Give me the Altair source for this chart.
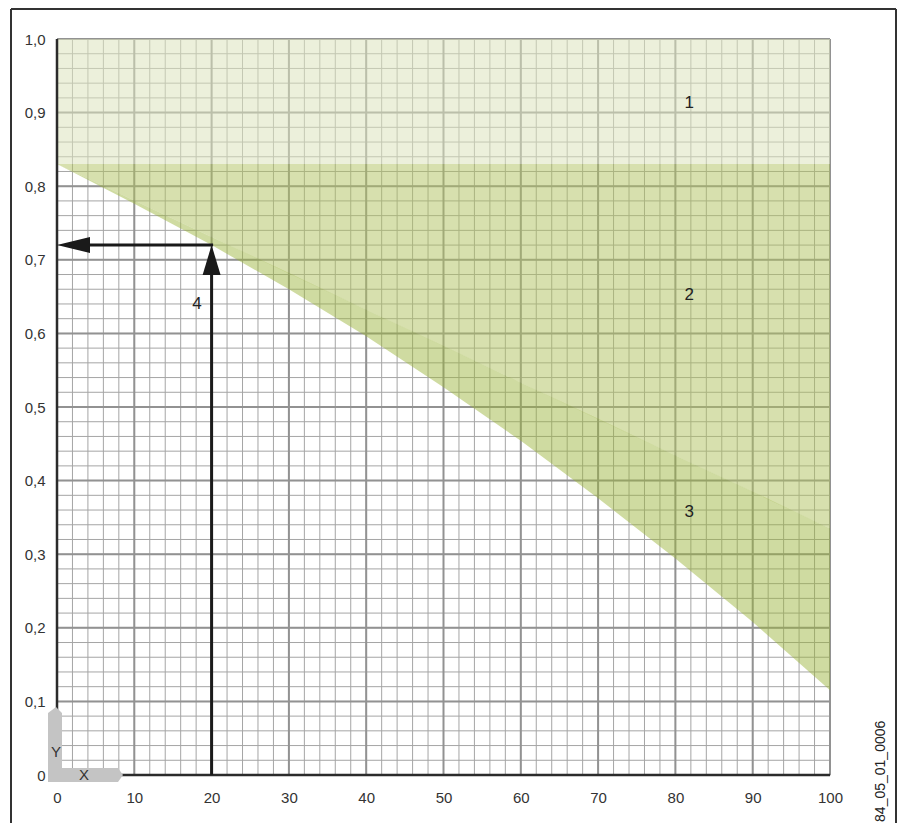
import altair as alt
import pandas as pd

# ---- axis ticks / grid positions ----
x_ticks = list(range(0, 101, 10))
y_ticks = [round(i * 0.1, 1) for i in range(11)]
x_minor = list(range(0, 101, 2))
y_minor = [round(i * 0.02, 2) for i in range(51)]

# ---- shaded zones ----
zone1_x = [0, 100]
zone1_bottom = [0.83, 0.83]
zone1_top = [1.0, 1.0]

zone2_x = [0, 100]
zone2_bottom = [0.83, 0.335]
zone2_top = [0.83, 0.83]

band_x = [0, 10, 20, 30, 40, 50, 60, 70, 80, 90, 100]
band_upper = [0.83, 0.7805, 0.731, 0.682, 0.632, 0.583, 0.533, 0.484, 0.434, 0.385, 0.335]
band_lower = [0.83, 0.776, 0.720, 0.660, 0.596, 0.527, 0.454, 0.376, 0.294, 0.208, 0.115]

# ---- zone labels ----
zone_labels = ["1", "2", "3", "4"]
zone_label_x = [81.8, 81.8, 81.8, 18.1]
zone_label_y = [0.913, 0.652, 0.358, 0.640]

# ---- reading example (arrow) ----
read_x = 20
read_y = 0.72
arrow_v_start = 0.0
arrow_v_end = 0.70
arrow_h_end = 2

stamp = "84_05_01_0006"

FONT = "Liberation Sans"

xscale = alt.Scale(domain=[0, 100], nice=False, zero=False)
yscale = alt.Scale(domain=[0, 1], nice=False, zero=False)
xaxis = alt.Axis(values=x_ticks, ticks=False, tickSize=0, domain=False, grid=False,
                 labelFontSize=15, labelColor="#333333", labelPadding=15,
                 labelFont=FONT, labelFlush=False, labelOverlap=False, title=None)
yaxis = alt.Axis(values=y_ticks, ticks=False, tickSize=0, domain=False, grid=False,
                 labelFontSize=15, labelColor="#333333", labelPadding=12,
                 labelFont=FONT, labelFlush=False, labelOverlap=False, title=None,
                 labelExpr="datum.value == 0 ? '0' : replace(format(datum.value, '.1f'), '.', ',')")


def X(f, **kw):
    return alt.X(f, type="quantitative", scale=xscale, axis=xaxis, title=None, **kw)


def Y(f, **kw):
    return alt.Y(f, type="quantitative", scale=yscale, axis=yaxis, title=None, **kw)


df_xminor = pd.DataFrame({"v": x_minor})
df_yminor = pd.DataFrame({"v": y_minor})
df_xmajor = pd.DataFrame({"v": x_ticks})
df_ymajor = pd.DataFrame({"v": y_ticks})

grid_xminor = alt.Chart(df_xminor).mark_rule(color="#A5A5A5", strokeWidth=1).encode(x=X("v"))
grid_yminor = alt.Chart(df_yminor).mark_rule(color="#A5A5A5", strokeWidth=1).encode(y=Y("v"))
grid_xmajor = alt.Chart(df_xmajor).mark_rule(color="#929292", strokeWidth=2).encode(x=X("v"))
grid_ymajor = alt.Chart(df_ymajor).mark_rule(color="#929292", strokeWidth=2).encode(y=Y("v"))

df_z1 = pd.DataFrame({"x": zone1_x, "lo": zone1_bottom, "hi": zone1_top})
df_z2 = pd.DataFrame({"x": zone2_x, "lo": zone2_bottom, "hi": zone2_top})
df_z3 = pd.DataFrame({"x": band_x, "lo": band_lower, "hi": band_upper})

zone1 = alt.Chart(df_z1).mark_area(color="#DDE3BD", opacity=0.55).encode(
    x=X("x"), y=Y("lo"), y2="hi")
zone2 = alt.Chart(df_z2).mark_area(color="#AFC25E", opacity=0.5).encode(
    x=X("x"), y=Y("lo"), y2="hi")
zone3 = alt.Chart(df_z3).mark_area(color="#9BB33A", opacity=0.48).encode(
    x=X("x"), y=Y("lo"), y2="hi")

df_axes_v = pd.DataFrame({"x": [0], "y": [0], "y2": [1]})
df_axes_h = pd.DataFrame({"x": [0], "x2": [100], "y": [0]})
axis_left = alt.Chart(df_axes_v).mark_rule(color="#2B2B2B", strokeWidth=2.5).encode(
    x=X("x"), y=Y("y"), y2="y2")
axis_bottom = alt.Chart(df_axes_h).mark_rule(color="#2B2B2B", strokeWidth=2.5).encode(
    x=X("x"), x2="x2", y=Y("y"))

# arrows
df_av = pd.DataFrame({"x": [read_x], "y": [arrow_v_start], "y2": [arrow_v_end]})
df_ah = pd.DataFrame({"x": [arrow_h_end], "x2": [read_x], "y": [read_y]})
arrow_v = alt.Chart(df_av).mark_rule(color="#1A1A1A", strokeWidth=3).encode(
    x=X("x"), y=Y("y"), y2="y2")
arrow_h = alt.Chart(df_ah).mark_rule(color="#1A1A1A", strokeWidth=3, strokeCap="square").encode(
    x=X("x"), x2="x2", y=Y("y"))
df_head_up = pd.DataFrame({"x": [read_x], "y": [read_y]})
df_head_left = pd.DataFrame({"x": [0], "y": [read_y]})
head_up = alt.Chart(df_head_up).mark_point(
    shape="M0,0L9,30L-9,30Z", size=4, filled=True, opacity=1, color="#1A1A1A", strokeWidth=0
).encode(x=X("x"), y=Y("y"))
head_left = alt.Chart(df_head_left).mark_point(
    shape="M0,0L33,-8L33,8Z", size=4, filled=True, opacity=1, color="#1A1A1A", strokeWidth=0
).encode(x=X("x"), y=Y("y"))

# XY icon
df_icon = pd.DataFrame({"x": [0], "y": [0]})
icon = alt.Chart(df_icon).mark_point(
    shape="M-9,7L-9,-62L-1,-68L5,-62L5,-7L61,-7L66,0L61,7Z",
    size=4, filled=True, opacity=1, color="#C4C4C4", strokeWidth=0
).encode(x=X("x"), y=Y("y"))
df_icon_txt = pd.DataFrame({"x": [-0.13, 3.5], "y": [0.031, 0.0], "t": ["Y", "X"]})
icon_txt = alt.Chart(df_icon_txt).mark_text(
    font=FONT, fontSize=15, color="#333333", align="center", baseline="middle"
).encode(x=X("x"), y=Y("y"), text="t:N")

# zone labels
df_lbl = pd.DataFrame({"x": zone_label_x, "y": zone_label_y, "t": zone_labels})
labels = alt.Chart(df_lbl).mark_text(
    font=FONT, fontSize=17, color="#222222", align="center", baseline="middle"
).encode(x=X("x"), y=Y("y"), text="t:N")

# stamp
df_stamp = pd.DataFrame({"x": [106.6], "y": [0.005], "t": [stamp]})
stamp_txt = alt.Chart(df_stamp).mark_text(
    font=FONT, fontSize=14, color="#222222", angle=270, align="center", baseline="middle"
).encode(x=X("x"), y=Y("y"), text="t:N")

# outer frame (left, top, right)
blank = alt.Data(values=[{}])
frame_left = alt.Chart(blank).mark_rule(color="#333333", strokeWidth=2).encode(
    x=alt.value(-46), y=alt.value(-30), y2=alt.value(784))
frame_right = alt.Chart(blank).mark_rule(color="#333333", strokeWidth=2).encode(
    x=alt.value(839), y=alt.value(-30), y2=alt.value(784))
frame_top = alt.Chart(blank).mark_rule(color="#333333", strokeWidth=2).encode(
    x=alt.value(-46), x2=alt.value(839), y=alt.value(-30))

chart = alt.layer(
    grid_xminor, grid_yminor, grid_xmajor, grid_ymajor,
    zone1, zone2, zone3,
    axis_left, axis_bottom,
    arrow_v, arrow_h, head_up, head_left,
    icon, icon_txt, labels, stamp_txt,
    frame_left, frame_right, frame_top,
).properties(
    width=773, height=736,
    padding={"left": 2, "top": 0, "right": 0, "bottom": 0},
).configure_view(stroke=None).configure(font=FONT)

chart.save("out.html", embed_options={"renderer": "svg", "actions": False})
